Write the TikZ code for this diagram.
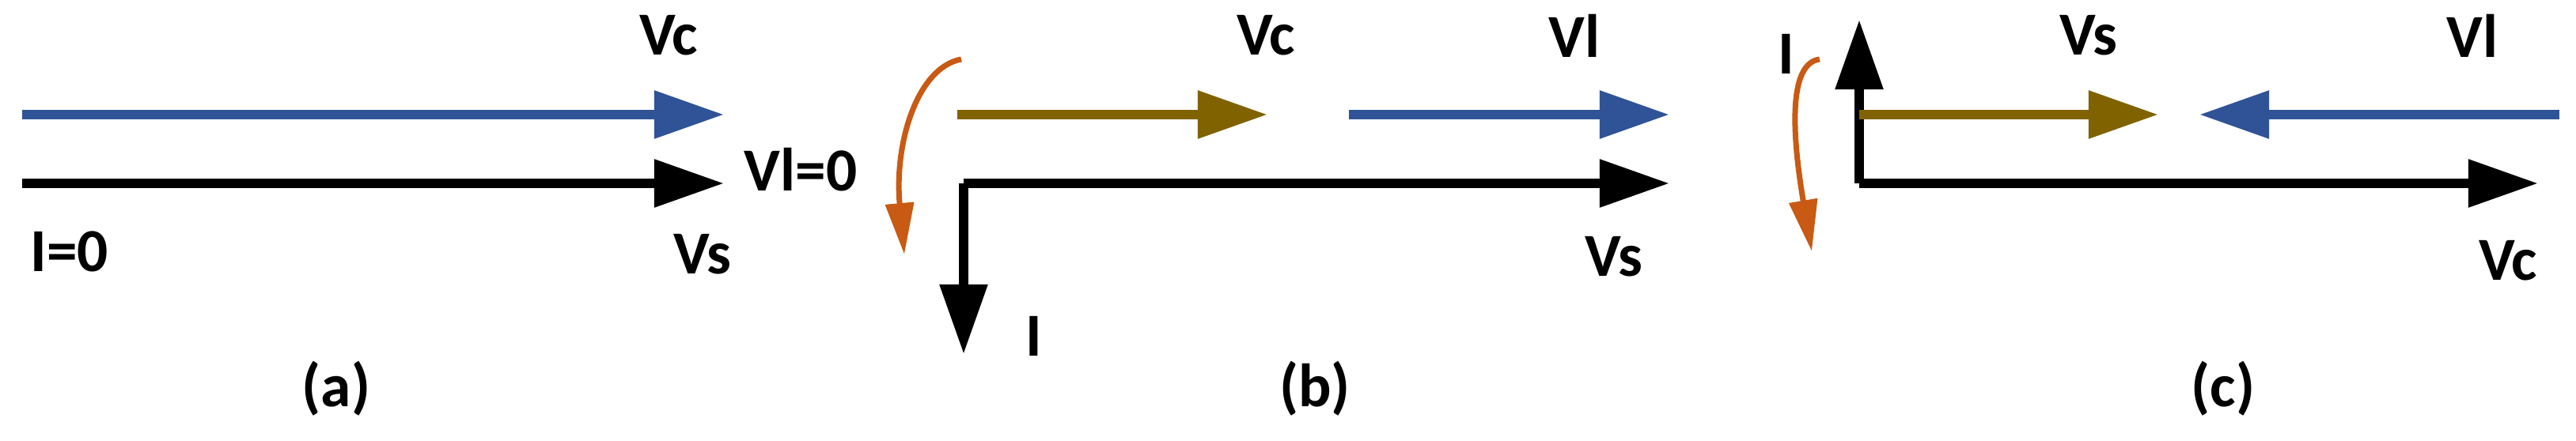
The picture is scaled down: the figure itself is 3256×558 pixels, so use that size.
\documentclass[tikz,border=0pt]{standalone}
\usepackage{fontspec}
\setmainfont{Carlito}
\usetikzlibrary{arrows.meta}
\definecolor{vblue}{RGB}{47,83,150}
\definecolor{volive}{RGB}{128,98,0}
\definecolor{vorange}{RGB}{200,90,20}
\tikzset{
  x=0.01cm,y=-0.01cm,
  ph/.style={line width=0.12cm,-{Triangle[length=0.88cm,width=0.58cm]}},
  cur/.style={line width=0.07cm,vorange,-{Triangle[length=0.65cm,width=0.35cm]}},
  lbl/.style={font=\fontsize{22}{26}\selectfont\bfseries,inner sep=0},
}
\begin{document}
\begin{tikzpicture}
\useasboundingbox (0,0) rectangle (3256,558);
% (a)
\coordinate (a1) at (28,145); \coordinate (a2) at (915,145);
\coordinate (a3) at (28,232); \coordinate (a4) at (915,232);
\draw[ph,vblue] (a1) -- (a2);
\draw[ph,black] (a3) -- (a4);
\node[lbl] (avc) at (845,45) {Vc};
\node[lbl] (avl) at (1012,215) {Vl=0};
\node[lbl] (ai) at (88,318) {I=0};
\node[lbl] (avs) at (888,322) {Vs};
\node[lbl] (al) at (425,492) {(a)};
% (b)
\coordinate (b1) at (1210,145); \coordinate (b2) at (1602,145);
\coordinate (b3) at (1705,145); \coordinate (b4) at (2110,145);
\coordinate (bc) at (1218,232); \coordinate (b5) at (2110,232);
\coordinate (bd) at (1218,448);
\draw[ph,volive] (b1) -- (b2);
\draw[ph,vblue] (b3) -- (b4);
\draw[ph,black] (bc) -- (b5);
\draw[ph,black] (bc) -- (bd);
\coordinate (bo1) at (1215,75); \coordinate (bo2) at (1143,322);
\draw[cur] (bo1) .. controls (1160,85) and (1130,180) .. (bo2);
\node[lbl] (bvc) at (1600,45) {Vc};
\node[lbl] (bvl) at (1990,45) {Vl};
\node[lbl] (bvs) at (2040,325) {Vs};
\node[lbl] (bi) at (1307,425) {I};
\node[lbl] (bl) at (1662,492) {(b)};
% (c)
\coordinate (cc) at (2350,232); \coordinate (cu) at (2350,25);
\coordinate (c5) at (3208,232);
\coordinate (c1) at (2350,145); \coordinate (c2) at (2728,145);
\coordinate (c3) at (3235,145); \coordinate (c4) at (2780,145);
\draw[ph,black] (cc) -- (cu);
\draw[ph,black] (cc) -- (c5);
\draw[ph,volive] (c1) -- (c2);
\draw[ph,vblue] (c3) -- (c4);
\coordinate (co1) at (2300,75); \coordinate (co2) at (2290,318);
\draw[cur] (co1) .. controls (2260,80) and (2265,170) .. (co2);
\node[lbl] (cvs) at (2640,45) {Vs};
\node[lbl] (cvl) at (3125,45) {Vl};
\node[lbl] (cvc) at (3170,330) {Vc};
\node[lbl] (ci) at (2258,68) {I};
\node[lbl] (cl) at (2810,492) {(c)};
\end{tikzpicture}
\end{document}
